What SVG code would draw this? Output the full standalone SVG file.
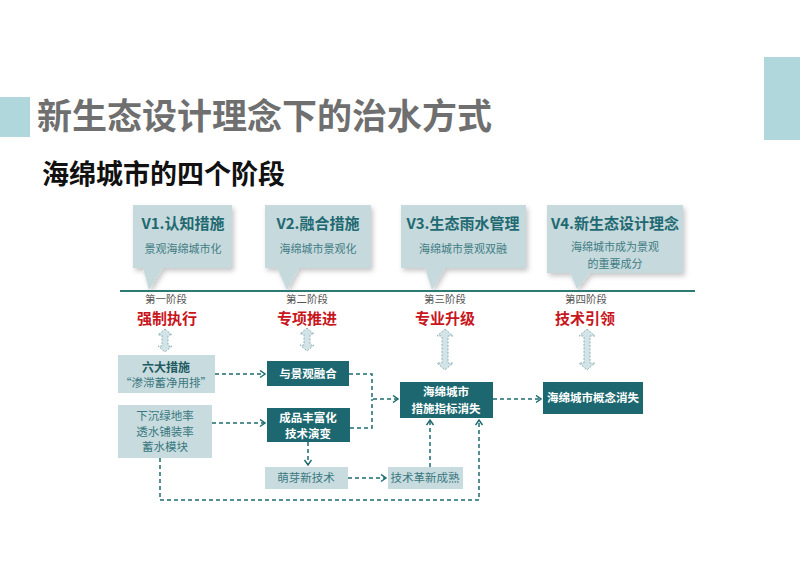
<svg xmlns="http://www.w3.org/2000/svg" width="800" height="565" viewBox="0 0 800 565">
<defs>
<style>
text{font-family:"Noto Sans CJK SC","Noto Sans",sans-serif;}
.title{font-size:35px;font-weight:bold;fill:#6f6f6f;}
.sub{font-size:27px;font-weight:bold;fill:#111;}
.call{fill:#c6d9dc;filter:url(#sh);}
.vt{font-size:15px;font-weight:bold;fill:#1f6a72;text-anchor:middle;}
.vs{font-size:11px;fill:#3f7c84;text-anchor:middle;}
.st{font-size:10.5px;fill:#555;text-anchor:middle;}
.sr{font-size:15px;font-weight:bold;fill:#c8161d;text-anchor:middle;}
.dark{fill:#1d6870;}
.light{fill:#c8dcdf;}
.dt{font-size:11.5px;font-weight:bold;fill:#fff;text-anchor:middle;}
.lt{font-size:11.5px;fill:#3a7880;text-anchor:middle;}
.lb{font-size:12px;font-weight:bold;fill:#1f5a60;text-anchor:middle;}
.dbl{fill:#d2e4e8;stroke:#8fb0b6;stroke-width:1;stroke-dasharray:2,1.5;}
.con{fill:none;stroke:#1f6b70;stroke-width:1.5;stroke-dasharray:4,3;}
</style>
<filter id="sh" x="-10%" y="-10%" width="130%" height="140%">
<feDropShadow dx="2" dy="3" stdDeviation="2.5" flood-color="#000" flood-opacity="0.22"/>
</filter>
<marker id="ar" markerUnits="userSpaceOnUse" markerWidth="8" markerHeight="9" refX="6" refY="4" orient="auto">
<path d="M1,0.5 L6,4 L1,7.5" fill="none" stroke="#1f6b70" stroke-width="1.5"/>
</marker>
</defs>

<g id="header">
<rect x="0" y="97" width="30" height="40" fill="#b0d8dc"/>
<rect x="764" y="57" width="36" height="83" fill="#b0d8dc"/>
<text class="title" x="37" y="129">新生态设计理念下的治水方式</text>
<text class="sub" x="42" y="184">海绵城市的四个阶段</text>
</g>

<g id="v1">
<path class="call" d="M133,205 H232 V268 H163 L149,290 L143,268 H133 Z"/>
<text class="vt" x="183" y="229">V1.认知措施</text>
<text class="vs" x="183" y="253">景观海绵城市化</text>
</g>
<g id="v2">
<path class="call" d="M265,205 H371 V268 H299 L287,290 L277,268 H265 Z"/>
<text class="vt" x="318" y="229">V2.融合措施</text>
<text class="vs" x="318" y="253">海绵城市景观化</text>
</g>
<g id="v3">
<path class="call" d="M401,205 H526 V268 H445 L432,290 L425,268 H401 Z"/>
<text class="vt" x="463" y="229">V3.生态雨水管理</text>
<text class="vs" x="463" y="253">海绵城市景观双融</text>
</g>
<g id="v4">
<path class="call" d="M547,205 H683 V273 H590 L577,289 L570,273 H547 Z"/>
<text class="vt" x="615" y="229">V4.新生态设计理念</text>
<text class="vs" x="615" y="251">海绵城市成为景观</text>
<text class="vs" x="615" y="268">的重要成分</text>
</g>

<g id="timeline">
<line x1="120" y1="291" x2="695" y2="291" stroke="#2d7a74" stroke-width="2"/>
</g>

<g id="stage1">
<text class="st" x="166" y="303">第一阶段</text>
<text class="sr" x="167" y="324">强制执行</text>
<path class="dbl" d="M165,329 L172,335 L168,335 L168,346 L172,346 L165,352 L158,346 L162,346 L162,335 L158,335 Z"/>
</g>
<g id="stage2">
<text class="st" x="307" y="303">第二阶段</text>
<text class="sr" x="307" y="324">专项推进</text>
<path class="dbl" d="M307,328 L314,334 L310,334 L310,345 L314,345 L307,351 L300,345 L304,345 L304,334 L300,334 Z"/>
</g>
<g id="stage3">
<text class="st" x="445" y="303">第三阶段</text>
<text class="sr" x="445" y="324">专业升级</text>
<path class="dbl" d="M445,329 L453,336 L448,336 L448,363 L453,363 L445,370 L437,363 L442,363 L442,336 L437,336 Z"/>
</g>
<g id="stage4">
<text class="st" x="586" y="303">第四阶段</text>
<text class="sr" x="585" y="324">技术引领</text>
<path class="dbl" d="M587,329 L595,336 L590,336 L590,363 L595,363 L587,370 L579,363 L584,363 L584,336 L579,336 Z"/>
</g>

<g id="n-liuda">
<rect class="light" x="118" y="355" width="97" height="38"/>
<text class="lb" x="166" y="372">六大措施</text>
<text class="lt" x="166" y="387">“渗滞蓄净用排”</text>
</g>
<g id="n-rongjing">
<rect class="dark" x="267" y="361" width="82" height="25"/>
<text class="dt" x="308" y="378">与景观融合</text>
</g>
<g id="n-xiachen">
<rect class="light" x="118" y="405" width="94" height="53"/>
<text class="lt" x="165" y="420">下沉绿地率</text>
<text class="lt" x="165" y="436">透水铺装率</text>
<text class="lt" x="165" y="451">蓄水模块</text>
</g>
<g id="n-chengpin">
<rect class="dark" x="267" y="408" width="83" height="34"/>
<text class="dt" x="308" y="422">成品丰富化</text>
<text class="dt" x="308" y="438">技术演变</text>
</g>
<g id="n-zhibiao">
<rect class="dark" x="400" y="382" width="93" height="36"/>
<text class="dt" x="446" y="396">海绵城市</text>
<text class="dt" x="446" y="413">措施指标消失</text>
</g>
<g id="n-gainian">
<rect class="dark" x="543" y="382" width="100" height="32"/>
<text class="dt" x="593" y="402">海绵城市概念消失</text>
</g>
<g id="n-mengya">
<rect class="light" x="265" y="467" width="83" height="22"/>
<text class="lt" x="306" y="482">萌芽新技术</text>
</g>
<g id="n-gexin">
<rect class="light" x="388" y="467" width="75" height="22"/>
<text class="lt" x="425" y="482">技术革新成熟</text>
</g>

<g id="connectors">
<path class="con" d="M215,374 H265" marker-end="url(#ar)"/>
<path class="con" d="M212,423 H265" marker-end="url(#ar)"/>
<path class="con" d="M349,374 H372 V399 H398" marker-end="url(#ar)"/>
<path class="con" d="M350,428 H372 V399"/>
<path class="con" d="M493,399 H541" marker-end="url(#ar)"/>
<path class="con" d="M308,442 V465" marker-end="url(#ar)"/>
<path class="con" d="M348,478 H386" marker-end="url(#ar)"/>
<path class="con" d="M430,467 V420" marker-end="url(#ar)"/>
<path class="con" d="M160,458 V500 H479 V420" marker-end="url(#ar)"/>
</g>
</svg>
